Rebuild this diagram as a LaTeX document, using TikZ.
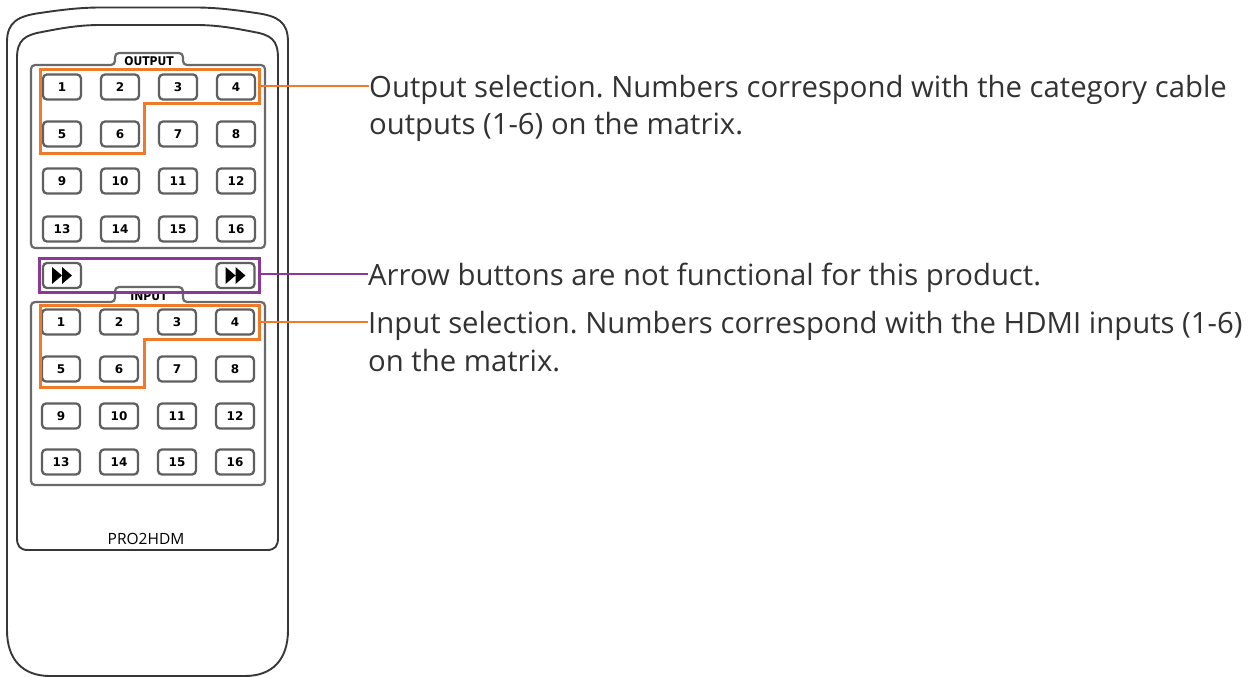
\documentclass[tikz,border=0pt]{standalone}
\usepackage{fontspec}
\setmainfont{Open Sans}
\newfontfamily\keyfont{DejaVu Sans}
\newfontfamily\tabfont{DejaVu Sans Condensed}
\definecolor{bodyline}{RGB}{55,55,55}
\definecolor{panelline}{RGB}{105,105,105}
\definecolor{keyline}{RGB}{95,95,95}
\definecolor{selorange}{RGB}{240,122,40}
\definecolor{selpurple}{RGB}{140,56,150}
\definecolor{notegray}{RGB}{50,50,50}
\begin{document}
\frenchspacing
\begin{tikzpicture}[x=1pt,y=-1pt,
  body/.style={draw=bodyline, line width=1.9pt},
  panel/.style={draw=panelline, line width=2.2pt, rounded corners=4pt},
  key/.style={draw=keyline, line width=2.3pt, fill=white, rounded corners=4pt,
    minimum width=38pt, minimum height=25pt, inner sep=0pt,
    font=\keyfont\bfseries\fontsize{12}{14}\selectfont},
  tablabel/.style={inner sep=0pt, font=\tabfont\bfseries\fontsize{12}{14}\selectfont},
  selout/.style={draw=selorange, line width=3pt},
  selarrow/.style={draw=selpurple, line width=3pt},
  leader/.style={line width=2.6pt},
  note/.style={anchor=base west, inner sep=0pt, text=notegray,
    font=\fontsize{29.3}{36}\selectfont}]
\useasboundingbox (0,0) rectangle (1254,677);

% remote body
\draw[body] (7,42) .. controls (7,22) and (18,16) .. (40,13)
  .. controls (60,10) and (80,7.5) .. (100,7.5) -- (196,7.5)
  .. controls (216,7.5) and (236,10) .. (256,13)
  .. controls (278,16) and (288,22) .. (288,42) -- (288,630)
  .. controls (288,660) and (272,676) .. (245,676) -- (50,676)
  .. controls (23,676) and (7,660) .. (7,630) -- cycle;
\draw[body] (17,58) .. controls (17,40) and (25,35) .. (42,32)
  .. controls (62,28) and (80,25) .. (100,25) -- (196,25)
  .. controls (216,25) and (234,28) .. (254,32)
  .. controls (271,35) and (278,40) .. (278,58) -- (278,538)
  .. controls (278,546) and (275,550) .. (267,550) -- (28,550)
  .. controls (20,550) and (17,546) .. (17,538) -- cycle;

% output panel with tab
\draw[panel] (31,150) -- (31,65) -- (115,65) -- (115,53) -- (183,53) -- (183,65)
  -- (265,65) -- (265,248) -- (31,248) -- cycle;
\node[tablabel] (outtab) at (149,61) {OUTPUT};

% input panel with tab
\draw[panel] (31,390) -- (31,302) -- (115,302) -- (115,287) -- (183,287) -- (183,302)
  -- (265,302) -- (265,485) -- (31,485) -- cycle;
\node[tablabel] (intab) at (149,296) {INPUT};

% output keys
\foreach \r/\yy in {0/87,1/134,2/181,3/229}
  \foreach \c/\xx in {0/62,1/120,2/178,3/236} {
    \pgfmathtruncatemacro\kn{\r*4+\c+1}
    \node[key] (o\kn) at (\xx,\yy) {\kn};
  }

% input keys
\foreach \r/\yy in {0/322,1/369,2/416,3/462}
  \foreach \c/\xx in {0/61,1/119,2/177,3/235} {
    \pgfmathtruncatemacro\kn{\r*4+\c+1}
    \node[key] (i\kn) at (\xx,\yy) {\kn};
  }

% arrow keys
\node[key] (al) at (62,275.5) {};
\node[key] (ar) at (235.5,275.5) {};
\foreach \k in {al,ar} {
  \begin{scope}[shift={(\k.center)}]
    \fill[black] (-10,-8.5) -- (0,0) -- (-10,8.5) -- cycle
                 (0,-8.5) -- (10,0) -- (0,8.5) -- cycle;
  \end{scope}
}

% model name
\node[inner sep=0pt, anchor=base, text=black, font=\fontsize{15.5}{18}\selectfont] (model) at (146,544) {PRO2HDM};

% selection outlines
\draw[selout] (40,70) -- (259,70) -- (259,104) -- (144,104) -- (144,153) -- (40,153) -- cycle;
\draw[selout] (40,305) -- (259,305) -- (259,339) -- (144,339) -- (144,387) -- (40,387) -- cycle;
\draw[selarrow] (39,258) rectangle (259,292);

\coordinate (osel) at (259,86);
\coordinate (asel) at (259,274);
\coordinate (isel) at (259,322);

% notes
\node[note] (out1) at (369,97) {Output selection. Numbers correspond with the category cable};
\node[note] (out2) at (369,135) {outputs (1-6) on the matrix.};
\node[note] (arr1) at (368,285) {Arrow buttons are not functional for this product.};
\node[note] (in1) at (368,333) {Input selection. Numbers correspond with the HDMI inputs (1-6)};
\node[note] (in2) at (368,371) {on the matrix.};

% leaders
\draw[leader, selorange] (osel) -- (osel -| out1.west);
\draw[leader, selpurple] (asel) -- (asel -| arr1.west);
\draw[leader, selorange] (isel) -- (isel -| in1.west);
\end{tikzpicture}
\end{document}
